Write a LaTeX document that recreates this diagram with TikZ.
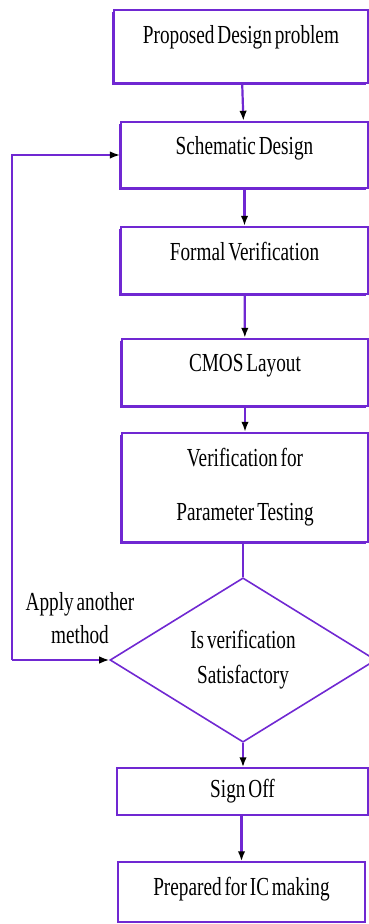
\documentclass[tikz,border=0pt]{standalone}
\usepackage{fontspec}
\setmainfont{Liberation Serif}[FakeStretch=0.74,WordSpace=0.6]
\usepackage{tikz}
\usetikzlibrary{arrows.meta,shapes.geometric,shadows}
\definecolor{boxpurple}{RGB}{112,40,210}
\tikzset{
	stepbox/.style={draw=boxpurple, line width=2.4pt, fill=white, rectangle, inner sep=0pt,
		font=\fontsize{26}{31}\selectfont, text height=18pt,
		drop shadow={shadow xshift=-1.6pt, shadow yshift=-1.6pt, fill=boxpurple, opacity=1}},
	thinbox/.style={draw=boxpurple, line width=1.5pt, fill=white, rectangle, inner sep=0pt,
		font=\fontsize{26}{31}\selectfont},
	flow/.style={draw=boxpurple, line width=2.2pt, -{Latex[black,length=10pt,width=7.5pt]}},
}
\begin{document}
\begin{tikzpicture}[x=1pt,y=-1pt]
			%%%%% START %%%%%
			
			\useasboundingbox (0,0) rectangle (369,924);
			
			\node[stepbox, minimum width=254pt, minimum height=73pt, text depth=25pt] (propose) at (241, 46.5) {Proposed Design problem};
			\node[stepbox, minimum width=247pt, minimum height=66pt, text depth=20pt] (schem) at (244.5, 155) {Schematic Design};
			\node[stepbox, minimum width=247pt, minimum height=67pt, text depth=19pt] (formal) at (244.5, 260.5) {Formal Verification};
			\node[stepbox, minimum width=246pt, minimum height=67pt, text depth=21pt] (layout) at (245, 372.5) {CMOS Layout};
			\node[stepbox, minimum width=246pt, minimum height=109pt, text height=, align=center] (paramtest) at (245, 487.5) {Verification for\\[23pt]Parameter Testing};
			
			\node[draw=boxpurple, line width=1.6pt, diamond, inner sep=0pt, minimum width=266pt, minimum height=163pt,
				font=\fontsize{26}{31}\selectfont, align=center] (verify) at (243, 660) {Is verification\\[4pt]Satisfactory};
			
			\node[thinbox, minimum width=251pt, minimum height=47pt] (signoff) at (242.5, 791.5) {Sign Off};
			\node[thinbox, minimum width=247pt, minimum height=60pt, text depth=12pt] (icmake) at (241.5, 892) {Prepared for IC making};
			
			\node[font=\fontsize{26}{31}\selectfont, align=center] (another) at (80, 618) {Apply another\\[2pt]method};
			
			\draw[flow] (propose) -- (schem);
			\draw[flow] (schem) -- (formal);
			\draw[flow] (formal) -- (layout);
			\draw[flow] (layout) -- (paramtest);
			\draw[flow, -] (paramtest.south -| verify.north) -- (verify.north);
			\draw[flow] (verify.south) -- (signoff.north -| verify.south);
			\draw[flow] (signoff.south -| icmake.north) -- (icmake.north);
			
			% back to the schematic step
			\coordinate (loop) at (12, 660);
			\draw[flow, line width=1.6pt] (loop) -- (verify.west);
			\draw[flow, line width=1.6pt] (loop) |- (schem.west);
			
			%%%%% END %%%%%
\end{tikzpicture}
\end{document}
